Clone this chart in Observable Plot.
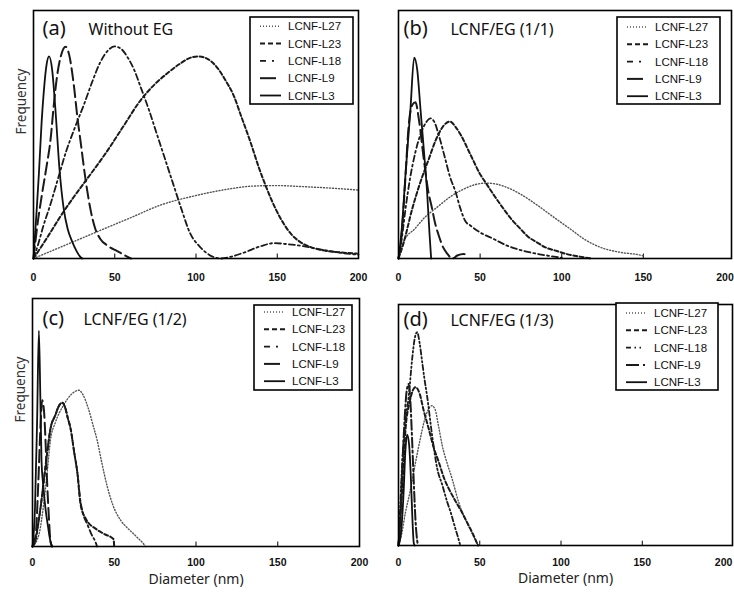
<!DOCTYPE html>
<html><head><meta charset="utf-8">
<script src="https://cdn.jsdelivr.net/npm/d3@7"></script>
<script src="https://cdn.jsdelivr.net/npm/@observablehq/plot@0.6"></script>
<style>
body{margin:0;background:#fff;}
#wrap{position:relative;width:734px;height:594px;overflow:hidden;background:#fff;}
</style></head><body><div id="wrap"></div>
<script>
// ---------- data ----------
const seriesNames = ["LCNF-L27", "LCNF-L23", "LCNF-L18", "LCNF-L9", "LCNF-L3"];
const xTicks = [0, 50, 100, 150, 200];
const panelLetters = ["(a)", "(b)", "(c)", "(d)"];
const panelTitles = ["Without EG", "LCNF/EG (1/1)", "LCNF/EG (1/2)", "LCNF/EG (1/3)"];
const yLabel = "Frequency";
const xLabel = "Diameter (nm)";

// [diameter (nm), frequency (relative)]
const A_L27 = [[0,0],[20,5.5],[41,11.3],[60,16.5],[78,21.5],[100,25.4],[120,28],[135,29.2],[150,29.4],[165,29],[180,28.5],[200,27.6]];
const A_L23 = [[0,0],[8,8],[16.6,17],[25,25],[34,33],[45,43],[55,53],[65.8,63.7],[75,70.5],[82,74.5],[90,78.5],[96,80.8],[101,81.5],[107,80.5],[113,77],[118,72],[123,66],[128,57],[133.5,47],[138.5,37],[143.7,28],[149,20],[154,14],[159,9.5],[164,6.7],[171,4.5],[178,3.3],[188,2.5],[199,2]];
const A_L18 = [[0,0],[3,6],[6,13],[10.5,22],[15,32],[20,43],[25,52],[31,62],[36,71],[41,79],[46,84],[50,85.5],[54,84.5],[58,81],[62,76],[66,69],[71,60],[76,50],[81,40],[86,30],[91,20],[96.5,10],[102,5],[107,2],[115,0],[122,0.8],[130,2.5],[140,5],[148,6.2],[156,5.8],[166,5],[178,3.5],[190,2.2],[200,1.5]];
const A_L9 = [[0,0],[2.3,13],[5,25],[8,37],[10.5,48],[12.5,62],[14.6,74],[17,82],[19.7,85.4],[22,82],[24.8,70],[27,57],[29,47],[32,32],[35,20],[38,12],[41,8],[46,5],[51.5,3],[57.6,0.8],[60,0]];
const A_L3 = [[0,0],[2,20],[3.3,34],[5,55],[6.3,67],[8,78],[9.6,81.5],[11.5,76],[13.5,60],[16,36],[18.6,20],[21,12],[23.8,6.8],[26.5,3],[29,0.5],[30,0]];

const B_L27 = [[0,0],[3.3,7],[10,12],[16,16.5],[23.7,20.7],[32,25],[40,28],[47,29.8],[54,30.4],[60,30],[67,28.5],[74.6,26],[85,21.5],[95,16.7],[105,12],[115,7.3],[125,4.2],[135.8,2.5],[149,1.2],[150,1]];
const B_L23 = [[0,0],[3,6],[8.4,20],[13,30],[18.5,40],[23,48],[27,53],[31.5,55.2],[35,53],[38,50],[44,42],[50,34],[54,30],[59,25],[64.4,20],[69,16],[74.6,12],[79,9],[84.8,6.5],[90,4.5],[97,3],[103,1.8],[109,1],[118,0]];
const B_L18 = [[0,0],[2,8],[4.3,20],[7,32],[10.4,43],[14,51],[17,55],[19.6,56.5],[22,55],[25,49],[28.7,40],[31.5,33],[34.9,27],[38,20],[41,15],[44,13.3],[50,10.5],[57,8.3],[66.5,5.2],[77.7,2.9],[92,1.1],[100,0.3]];
const B_L9 = [[0,0],[2,10],[4,30],[6.3,54],[8.5,62],[10.4,63],[12.5,56],[15.5,40],[18,28],[20.6,20],[22.5,14],[24.6,9.4],[27,5],[29.8,2],[33,0],[36,1.2],[40,1.8],[43,0.8]];
const B_L3 = [[0,0],[2,12],[4.3,34],[7.3,60],[9.6,81],[11.5,76],[13.5,60],[15.5,44],[17.5,27],[19,10],[20,0]];

const C_L27 = [[0,0],[4,5],[7,18],[9,30],[11,43],[14,50],[19,57],[24,61.5],[28.4,63],[31,61],[34,56],[37,49],[39.6,42.7],[42,35],[45.8,24],[49,17],[54,10.5],[58,7.5],[62,5],[65,3],[68,1],[69,0]];
const C_L23 = [[0,0],[2,3],[3,7],[5,16],[7,27],[9,38],[11,47.5],[14,53],[16,56.5],[18.2,58],[20,56],[21.5,52],[23.3,47.5],[25.5,38],[27.4,30],[29.4,17],[32.5,11.3],[39,7],[44,5],[49.5,3],[50,0]];
const C_L18 = [[0,0],[2,3],[3,7],[5,16],[7,27],[9,38],[11,47.5],[14,53],[16,56.5],[18.2,58],[20,56],[21.5,52],[23.3,47.5],[25.5,38],[27.4,30],[29.4,18],[31,13],[33.5,9],[36,5],[38.6,1.7],[39.5,0]];
const C_L9 = [[0,0],[2,5],[3.5,25],[5,50],[5.9,59],[7,55],[8,42],[9,25],[10,12],[11,2],[12,0]];
const C_L3 = [[0,0],[1.5,15],[2.8,50],[3.9,87],[4.8,60],[5.5,35],[6.5,25],[8,15],[9.5,8],[11,2],[12,0]];

const D_L27 = [[0,0],[2,5],[4.3,13.8],[7,22],[10.5,34.6],[13,43],[16,52],[18,56],[20.5,58],[22.5,56.5],[24.5,50],[26.9,41.5],[30,34],[33,27.7],[37,18],[40,12.5],[43,8.3],[46,4],[48,1.4],[49,0]];
const D_L23 = [[0,0],[2,20],[4.3,48],[7,60],[10.5,65.7],[13,63],[15.5,56],[18.6,48.4],[21.5,41],[24.8,34.6],[28,28],[31,23.5],[35,18.5],[39,13.8],[43,8.5],[46,4.5],[48,1.4],[49,0]];
const D_L18 = [[0,0],[1,15],[2.3,34.6],[4,50],[6.3,62],[8.5,78],[10,86],[11.5,88.5],[13,84],[14.6,76],[16,69],[17.6,62],[20.7,45.6],[23.8,32],[27,25],[30,18],[32,14],[35,7],[37,2.5],[38,0]];
const D_L9 = [[0,0],[1,10],[2.5,35],[4,55],[5,64],[6.3,67],[7.3,60],[8.3,45],[9.3,28],[10.5,10],[11.5,2],[12,0]];
const D_L3 = [[0,0],[1.5,5],[3,20],[4.3,40],[5.3,46],[6.5,42],[7.5,30],[8.5,12],[9.4,1],[10,0]];

const panelData = [
  [A_L27, A_L23, A_L18, A_L9, A_L3],
  [B_L27, B_L23, B_L18, B_L9, B_L3],
  [C_L27, C_L23, C_L18, C_L9, C_L3],
  [D_L27, D_L23, D_L18, D_L9, D_L3]
];

// ---------- styles / layout ----------
const lineStyles = [
  {stroke: "#555", width: 1.4, dash: "1,2"},
  {stroke: "#1a1a1a", width: 2, dash: "4,2.5"},
  {stroke: "#1a1a1a", width: 1.8, dash: "6,3,2,3"},
  {stroke: "#1a1a1a", width: 2, dash: "12,5"},
  {stroke: "#111", width: 1.8, dash: null}
];
const dStyles = [
  lineStyles[0], lineStyles[1],
  {stroke: "#1a1a1a", width: 1.8, dash: "5,2.5,1.5,2.5,1.5,2.5"},
  {stroke: "#1a1a1a", width: 2, dash: "10,3,2,3"},
  lineStyles[4]
];

const layout = [
  {left: 0, top: 0, w: 367, h: 290, ml: 33, mr: 9, mt: 10, mb: 32, xMax: 200, pad: 15, ylab: true, xlab: false,
   letterDx: 9, titleDx: 55, titleDy: 24, leg: {x: 250, y: 17, w: 103, h: 87, r0: 9.3}},
  {left: 367, top: 0, w: 367, h: 290, ml: 31, mr: 3, mt: 10, mb: 32, xMax: 204, pad: 15, ylab: false, xlab: false,
   letterDx: 5, titleDx: 52, titleDy: 24, leg: {x: 617, y: 17, w: 103, h: 87, r0: 10}},
  {left: 0, top: 290, w: 367, h: 304, ml: 32, mr: 8, mt: 8, mb: 48, xMax: 200, pad: 12, ylab: true, xlab: true,
   letterDx: 10, titleDx: 51, titleDy: 26, leg: {x: 254, y: 305, w: 98, h: 85, r0: 7}},
  {left: 367, top: 290, w: 367, h: 304, ml: 31, mr: 2, mt: 14, mb: 49, xMax: 205.5, pad: 13, ylab: false, xlab: true,
   letterDx: 5, titleDx: 52, titleDy: 21, leg: {x: 616, y: 303, w: 102, h: 87, r0: 10}}
];

const wrap = document.getElementById("wrap");

layout.forEach((L, p) => {
  const styles = p === 3 ? dStyles : lineStyles;
  const marks = [
    Plot.ruleX([50, 100, 150], {y1: 0, y2: 1.8, stroke: "#000", strokeWidth: 1}),
    Plot.axisX({ticks: xTicks, tickSize: 0, tickPadding: L.pad, label: null, tickFormat: d => String(d),
      fontWeight: "bold", fontSize: 10.5, fontFamily: "Liberation Sans, Arial, sans-serif", fill: "#111"})
  ];
  panelData[p].forEach((pts, i) => {
    const st = styles[i];
    marks.push(Plot.line(pts, {
      x: d => d[0], y: d => d[1], curve: "monotone-x",
      stroke: st.stroke, strokeWidth: st.width,
      strokeDasharray: st.dash || undefined
    }));
  });
  marks.push(Plot.frame({stroke: "#000", strokeWidth: 1.6}));
  marks.push(Plot.text([panelLetters[p]], {text: d => d, frameAnchor: "top-left", dx: L.letterDx, dy: L.titleDy,
    lineAnchor: "bottom", textAnchor: "start", fontSize: 20, fontFamily: "Noto Sans", fill: "#111"}));
  marks.push(Plot.text([panelTitles[p]], {text: d => d, frameAnchor: "top-left", dx: L.titleDx, dy: L.titleDy,
    lineAnchor: "bottom", textAnchor: "start", fontSize: 16, fontFamily: "Noto Sans", fill: "#111"}));
  if (L.ylab) marks.push(Plot.text([yLabel], {text: d => d, frameAnchor: "left", dx: -12, rotate: -90,
    fontSize: 13.5, fontFamily: "Noto Sans", fill: "#333"}));
  if (L.xlab) marks.push(Plot.text([xLabel], {text: d => d, frameAnchor: "bottom", dy: 37,
    fontSize: 14, fontFamily: "Noto Sans", fill: "#222"}));

  const chart = Plot.plot({
    width: L.w, height: L.h,
    marginLeft: L.ml, marginRight: L.mr, marginTop: L.mt, marginBottom: L.mb,
    x: {domain: [0, L.xMax]},
    y: {domain: [0, 100], axis: null},
    style: {fontFamily: "Noto Sans, sans-serif", fontSize: "10.5px", color: "#111", background: "transparent", overflow: "visible"},
    marks
  });
  chart.style.position = "absolute";
  chart.style.left = L.left + "px";
  chart.style.top = L.top + "px";
  wrap.appendChild(chart);
});

// legends overlay
const svg = d3.select(wrap).append("svg")
  .attr("width", 734).attr("height", 594)
  .style("position", "absolute").style("left", 0).style("top", 0);
const legendDash = [
  {stroke: "#555", width: 1.4, dash: "1,2"},
  {stroke: "#1a1a1a", width: 2, dash: "5,3"},
  {stroke: "#1a1a1a", width: 1.8, dash: "6,6,2,20"},
  {stroke: "#1a1a1a", width: 2, dash: "16,20"},
  {stroke: "#111", width: 1.8, dash: null}
];
const legendDashD = [
  legendDash[0], legendDash[1],
  {stroke: "#1a1a1a", width: 1.8, dash: "5,3.5,1.5,3.5,1.5,20"},
  {stroke: "#1a1a1a", width: 2, dash: "13,4,2,20"},
  legendDash[4]
];
layout.forEach((L, p) => {
  const g = svg.append("g");
  const b = L.leg;
  g.append("rect").attr("x", b.x).attr("y", b.y).attr("width", b.w).attr("height", b.h)
    .attr("fill", "#fff").attr("stroke", "#000").attr("stroke-width", 1.6);
  const ls = p === 3 ? legendDashD : legendDash;
  seriesNames.forEach((name, i) => {
    const y = b.y + b.r0 + i * 17.3;
    g.append("line").attr("x1", b.x + 10).attr("x2", b.x + 31).attr("y1", y).attr("y2", y)
      .attr("stroke", ls[i].stroke).attr("stroke-width", ls[i].width)
      .attr("stroke-dasharray", ls[i].dash);
    g.append("text").attr("x", b.x + 38).attr("y", y).attr("dy", "0.35em")
      .attr("font-family", "Liberation Sans, Arial, sans-serif").attr("font-size", 11.5)
      .attr("fill", "#111").text(name);
  });
});
</script></body></html>
